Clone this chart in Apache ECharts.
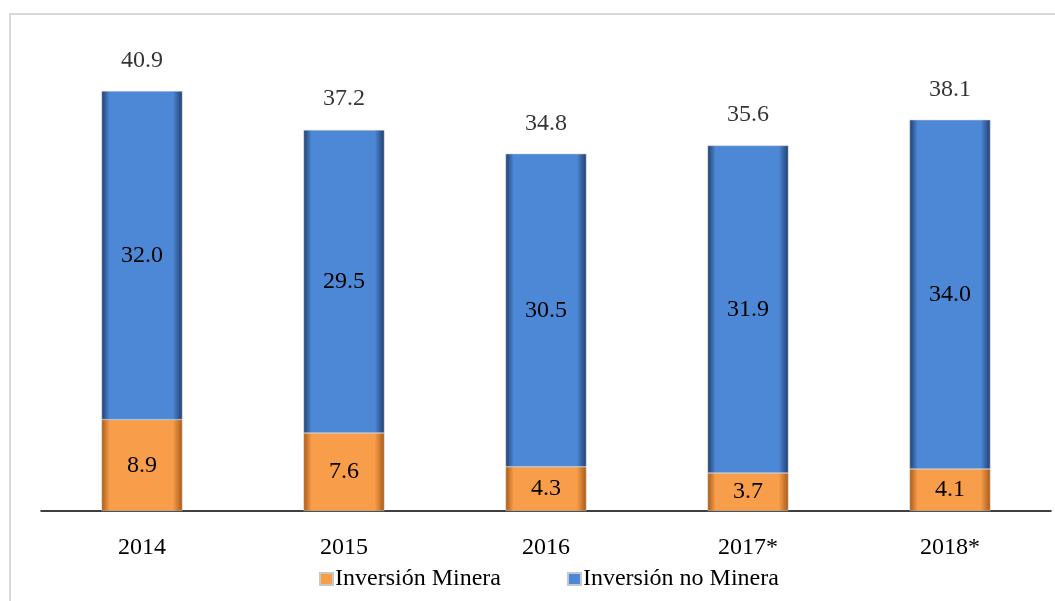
<!DOCTYPE html>
<html>
<head>
<meta charset="utf-8">
<script src="https://cdn.jsdelivr.net/npm/echarts@6/dist/echarts.min.js"></script>
<style>
  html, body { margin: 0; padding: 0; background: #fff; }
  #container { width: 1055px; height: 601px; }
</style>
</head>
<body>
<div id="container"></div>
<script>
const years = ['2014', '2015', '2016', '2017*', '2018*'];
const minera = [8.9, 7.6, 4.3, 3.7, 4.1];
const noMinera = [32.0, 29.5, 30.5, 31.9, 34.0];
const totals = [40.9, 37.2, 34.8, 35.6, 38.1];

const font = '"Liberation Serif", "Times New Roman", serif';

// bevel look: dark edges, flat middle
function bevel(edge, mid) {
    return new echarts.graphic.LinearGradient(0, 0, 1, 0, [
        { offset: 0, color: edge },
        { offset: 0.1, color: mid },
        { offset: 0.88, color: mid },
        { offset: 1, color: edge }
    ]);
}

const myChart = echarts.init(document.getElementById('container'));
const option = {
    animation: false,
    textStyle: { fontFamily: font, color: '#000' },
    graphic: [{
        type: 'rect',
        shape: { x: 10, y: 14, width: 1100, height: 650 },
        style: { fill: 'none', stroke: '#d9d9d9', lineWidth: 2 },
        silent: true
    }],
    grid: { left: 41, right: 4, top: 49, bottom: 90 },
    legend: {
        data: ['Inversión Minera', 'Inversión no Minera'],
        left: 314,
        top: 562,
        icon: 'rect',
        itemWidth: 13,
        itemHeight: 12,
        itemGap: 66,
        textStyle: { fontFamily: font, fontSize: 24, color: '#000', padding: [0, 0, 0, -3] }
    },
    xAxis: {
        type: 'category',
        data: years,
        axisLine: { lineStyle: { color: '#000', width: 1.5 } },
        axisTick: { show: false },
        axisLabel: { fontFamily: font, fontSize: 24, color: '#000', margin: 25 }
    },
    yAxis: {
        type: 'value',
        min: 0,
        max: 45,
        show: false,
        splitLine: { show: false }
    },
    series: [
        {
            name: 'Inversión Minera',
            type: 'bar',
            stack: 'total',
            barWidth: '40%',
            data: minera,
            itemStyle: { color: bevel('#a85a16', '#f89e4b'), borderColor: '#c8c8c8', borderWidth: 0.5 },
            label: {
                show: true,
                position: 'inside',
                fontFamily: font,
                fontSize: 24,
                color: '#000',
                formatter: p => p.value.toFixed(1)
            }
        },
        {
            name: 'Inversión no Minera',
            type: 'bar',
            stack: 'total',
            barWidth: '40%',
            data: noMinera,
            itemStyle: { color: bevel('#1f3f70', '#4d88d6'), borderColor: '#c8c8c8', borderWidth: 0.5 },
            label: {
                show: true,
                position: 'inside',
                fontFamily: font,
                fontSize: 24,
                color: '#000',
                formatter: p => p.value.toFixed(1)
            }
        },
        {
            name: 'Total',
            type: 'scatter',
            data: totals,
            symbolSize: 1,
            itemStyle: { color: 'rgba(0,0,0,0)' },
            label: {
                show: true,
                position: 'top',
                distance: 18,
                fontFamily: font,
                fontSize: 24,
                color: '#000',
                formatter: p => p.value.toFixed(1)
            },
            silent: true
        }
    ]
};
myChart.setOption(option);
window.addEventListener('resize', () => {
    myChart.resize()
})
</script>
</body>
</html>
